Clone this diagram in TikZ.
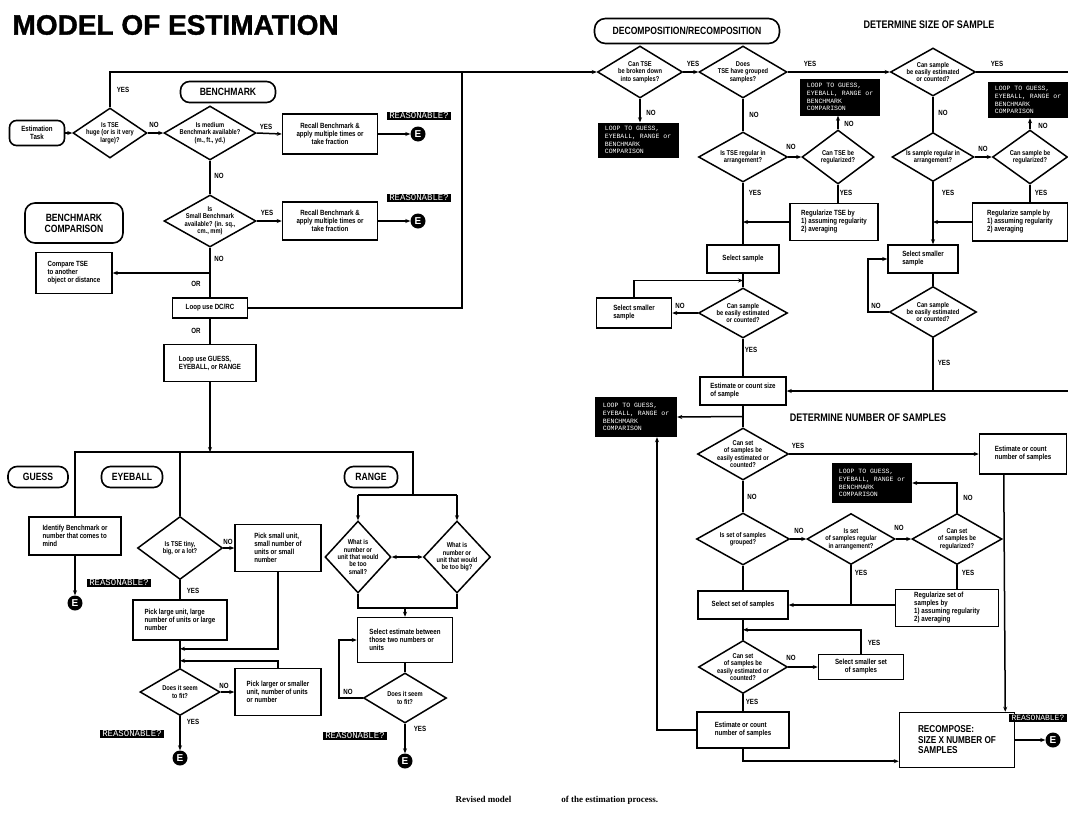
\documentclass[tikz,border=0pt]{standalone}
\usepackage{fontspec}
\setmainfont{Liberation Sans}
\newfontfamily\narrowfont[FakeStretch=0.82]{Liberation Sans}
\newfontfamily\titlefont[FakeBold=1.2]{Liberation Sans}
\newfontfamily\tapefont{Liberation Mono}
\newfontfamily\capfont{Liberation Serif}
\usepackage{graphicx}
\usepackage{tikz}
\usetikzlibrary{arrows.meta,positioning,shapes.geometric,calc}

\begin{document}
\begin{tikzpicture}[x=1pt,y=-1pt,>={Stealth[length=5pt,width=4pt]},
  flow/.style={line width=1.5pt},
  heavy/.style={line width=2.8pt},
  proc/.style={draw, line width=1.5pt, align=left, inner sep=2pt,
    font=\narrowfont\bfseries\fontsize{7.5}{8}\selectfont},
  dec/.style={diamond, draw, line width=1.5pt, align=center, aspect=1.5,
    inner xsep=-14pt, inner ysep=-6pt,
    font=\narrowfont\bfseries\fontsize{7}{7.4}\selectfont},
  term/.style={draw, line width=1.6pt, rounded corners=9pt, inner sep=2pt, align=center,
    font=\narrowfont\bfseries\fontsize{10.5}{11}\selectfont},
  tape/.style={fill=black, text=white, align=left, inner sep=2pt,
    font=\tapefont\fontsize{6.5}{7.8}\selectfont},
  okq/.style={fill=black, text=white, inner xsep=2.5pt, inner ysep=1pt,
    font=\tapefont\fontsize{9}{9}\selectfont},
  endE/.style={circle, fill=black, text=white, inner sep=0pt, minimum size=15pt,
    font=\bfseries\fontsize{10}{10}\selectfont},
  yn/.style={font=\narrowfont\bfseries\fontsize{7.5}{7.5}\selectfont},
  head/.style={font=\narrowfont\bfseries\fontsize{11}{11}\selectfont}]

  \useasboundingbox (0,0) rectangle (1068,814);

  % ── title ───────────────────────────────────────────────────────────
  \node[anchor=west, font=\titlefont\bfseries\fontsize{28}{30}\selectfont] (title) at (9,25) {MODEL OF ESTIMATION};

  % ── benchmark column ────────────────────────────────────────────────
  \node[term, rounded corners=7pt, minimum width=55, minimum height=25,
        font=\narrowfont\bfseries\fontsize{7.5}{8}\selectfont] (task) at (37,133) {Estimation\\Task};
  \node[dec, minimum width=74, minimum height=50] (huge) at (110,133) {Is TSE\\huge (or is it very\\large)?};
  \node[term, minimum width=95, minimum height=21] (bench) at (228,92) {BENCHMARK};
  \node[dec, minimum width=92, minimum height=54] (medium) at (210,133) {Is medium\\Benchmark available?\\(m., ft., yd.)};
  \node[proc, align=center, minimum width=95, minimum height=40] (recall1) at (330,134) {Recall Benchmark \&\\apply multiple times or\\take fraction};
  \node[okq] (ok1) at (419,116) {REASONABLE?};
  \node[endE] (e1) at (418,134) {E};

  \node[dec, minimum width=92, minimum height=52] (small) at (210,221) {Is\\Small Benchmark\\available? (in. sq.,\\cm., mm)};
  \node[proc, align=center, minimum width=95, minimum height=38] (recall2) at (330,221) {Recall Benchmark \&\\apply multiple times or\\take fraction};
  \node[okq] (ok2) at (419,198) {REASONABLE?};
  \node[endE] (e2) at (418,221) {E};

  \node[term, rounded corners=10pt, minimum width=98, minimum height=40] (bcomp) at (74,223) {BENCHMARK\\COMPARISON};
  \node[proc, minimum width=76, minimum height=41] (compare) at (74,273) {Compare TSE\\to another\\object or distance};
  \node[proc, align=center, minimum width=75, minimum height=20] (dcrc) at (210,308) {Loop use DC/RC};
  \node[proc, minimum width=92, minimum height=37] (gerloop) at (210,363) {Loop use GUESS,\\EYEBALL, or RANGE};

  \coordinate (jtop)   at (462,72);
  \coordinate (jbar)   at (210,452);
  \coordinate (jrange) at (413,495);
  \coordinate (jsel)   at (405,608);

  % ── guess / eyeball / range ─────────────────────────────────────────
  \node[term, minimum width=60, minimum height=21] (guess) at (38,477) {GUESS};
  \node[term, minimum width=61, minimum height=21] (eyeball) at (132,477) {EYEBALL};
  \node[term, minimum width=53, minimum height=21] (range) at (371,477) {RANGE};

  \node[proc, minimum width=92, minimum height=38] (identify) at (75,536) {Identify Benchmark or\\number that comes to\\mind};
  \node[okq] (ok3) at (119,583) {REASONABLE?};
  \node[endE] (e3) at (75,603) {E};

  \node[dec, minimum width=85, minimum height=63] (tiny) at (180,548) {Is TSE tiny,\\big, or a lot?};
  \node[proc, minimum width=86, minimum height=47] (picksmall) at (278,548) {Pick small unit,\\small number of\\units or small\\number};
  \node[proc, minimum width=94, minimum height=40] (picklarge) at (180,620) {Pick large unit, large\\number of units or large\\number};
  \node[dec, minimum width=80, minimum height=47] (fit1) at (180,692) {Does it seem\\to fit?};
  \node[proc, minimum width=86, minimum height=47] (pickother) at (278,692) {Pick larger or smaller\\unit, number of units\\or number};
  \node[okq] (ok4) at (132,734) {REASONABLE?};
  \node[endE] (e4) at (180,758) {E};

  \node[dec, minimum width=66, minimum height=72] (toosmall) at (358,557) {What is\\number or\\unit that would\\be too\\small?};
  \node[dec, minimum width=67, minimum height=72] (toobig) at (457,557) {What is\\number or\\unit that would\\be too big?};
  \node[proc, minimum width=95, minimum height=45] (between) at (405,640) {Select estimate between\\those two numbers or\\units};
  \node[dec, minimum width=83, minimum height=50] (fit2) at (405,698) {Does it seem\\to fit?};
  \node[okq] (ok5) at (355,736) {REASONABLE?};
  \node[endE] (e5) at (405,761) {E};

  % ── decomposition: size of sample ───────────────────────────────────
  \node[term, rounded corners=11pt, minimum width=185, minimum height=25] (decomp) at (687,31) {DECOMPOSITION/RECOMPOSITION};
  \node[head] (hsize) at (929,25) {DETERMINE SIZE OF SAMPLE};

  \node[dec, minimum width=85, minimum height=52] (broken) at (640,72) {Can TSE\\be broken down\\into samples?};
  \node[dec, minimum width=88, minimum height=52] (grouped) at (743,72) {Does\\TSE have grouped\\samples?};
  \node[dec, minimum width=85, minimum height=48] (easy1) at (933,72) {Can sample\\be easily estimated\\or counted?};
  \node[tape, minimum width=81, minimum height=35] (loop1) at (638,140) {LOOP TO GUESS,\\EYEBALL, RANGE or\\BENCHMARK\\COMPARISON};
  \node[tape, minimum width=80, minimum height=37] (loop2) at (840,97) {LOOP TO GUESS,\\EYEBALL, RANGE or\\BENCHMARK\\COMPARISON};
  \node[tape, minimum width=80, minimum height=36] (loop3) at (1028,100) {LOOP TO GUESS,\\EYEBALL, RANGE or\\BENCHMARK\\COMPARISON};

  \node[dec, minimum width=89, minimum height=50] (regular1) at (743,157) {Is TSE regular in\\arrangement?};
  \node[dec, minimum width=72, minimum height=54] (canreg1) at (838,157) {Can TSE be\\regularized?};
  \node[dec, minimum width=82, minimum height=49] (regular2) at (933,157) {Is sample regular in\\arrangement?};
  \node[dec, minimum width=75, minimum height=54] (canreg2) at (1030,157) {Can sample be\\regularized?};
  \node[proc, minimum width=88, minimum height=37] (regtse) at (834,222) {Regularize TSE by\\1) assuming regularity\\2) averaging};
  \node[proc, minimum width=95, minimum height=38] (regsample) at (1020,222) {Regularize sample by\\1) assuming regularity\\2) averaging};

  \node[proc, align=center, minimum width=72, minimum height=28] (selsample) at (743,259) {Select sample};
  \node[dec, minimum width=89, minimum height=50] (easy2) at (743,313) {Can sample\\be easily estimated\\or counted?};
  \node[proc, minimum width=75, minimum height=30] (smaller1) at (634,313) {Select smaller\\sample};
  \node[proc, minimum width=70, minimum height=28] (smaller2) at (923,259) {Select smaller\\sample};
  \node[dec, minimum width=87, minimum height=51] (easy3) at (933,312) {Can sample\\be easily estimated\\or counted?};
  \node[proc, minimum width=86, minimum height=28] (estsize) at (743,391) {Estimate or count size\\of sample};
  \node[tape, minimum width=82, minimum height=40] (loop4) at (636,417) {LOOP TO GUESS,\\EYEBALL, RANGE or\\BENCHMARK\\COMPARISON};

  % ── decomposition: number of samples ────────────────────────────────
  \node[head] (hnum) at (868,418) {DETERMINE NUMBER OF SAMPLES};
  \node[dec, minimum width=91, minimum height=52] (easyset1) at (743,454) {Can set\\of samples be\\easily estimated or\\counted?};
  \node[proc, minimum width=87, minimum height=40] (estnum1) at (1023,454) {Estimate or count\\number of samples};
  \node[tape, minimum width=80, minimum height=40] (loop5) at (872,483) {LOOP TO GUESS,\\EYEBALL, RANGE or\\BENCHMARK\\COMPARISON};
  \node[dec, minimum width=93, minimum height=52] (setgrouped) at (743,539) {Is set of samples\\grouped?};
  \node[dec, minimum width=88, minimum height=51] (setregular) at (851,539) {Is set\\of samples regular\\in arrangement?};
  \node[dec, minimum width=90, minimum height=51] (setcanreg) at (957,539) {Can set\\of samples be\\regularized?};
  \node[proc, align=center, minimum width=90, minimum height=28] (selset) at (743,605) {Select set of samples};
  \node[proc, minimum width=103, minimum height=37] (regset) at (947,608) {Regularize set of\\samples by\\1) assuming regularity\\2) averaging};
  \node[dec, minimum width=89, minimum height=53] (easyset2) at (743,667) {Can set\\of samples be\\easily estimated or\\counted?};
  \node[proc, align=center, minimum width=85, minimum height=25] (smallerset) at (861,667) {Select smaller set\\of samples};
  \node[proc, minimum width=92, minimum height=36] (estnum2) at (743,730) {Estimate or count\\number of samples};
  \node[proc, minimum width=115, minimum height=55, inner xsep=8pt,
        font=\narrowfont\bfseries\fontsize{10}{10.5}\selectfont] (recomp) at (957,740) {RECOMPOSE:\\SIZE X NUMBER OF\\SAMPLES};
  \node[okq, anchor=east, font=\tapefont\fontsize{8}{8}\selectfont] (ok6) at (1067,718) {REASONABLE?};
  \node[endE] (e6) at (1053,740) {E};

  % ── connectors, left half ───────────────────────────────────────────
  \draw[flow,->] (task.east) -- (huge.west);
  \draw[flow,->] (huge.north) |- (broken.west);
  \draw[flow] (dcrc.east) -| (jtop);
  \draw[flow,->] (huge.east) -- (medium.west);
  \draw[flow,->] (medium.east) -- (recall1.west);
  \draw[flow,->] (recall1.east) -- (e1.west);
  \draw[flow] (medium.south) -- (small.north);
  \draw[flow,->] (small.east) -- (recall2.west);
  \draw[flow,->] (recall2.east) -- (e2.west);
  \draw[flow] (small.south) -- (dcrc.north);
  \draw[flow,->] (small.south |- compare.east) -- (compare.east);
  \draw[flow] (dcrc.south) -- (gerloop.north);
  \draw[heavy,->] (gerloop.south) -- (jbar);

  \draw[flow] (identify.north) |- (jbar) -| (jrange);
  \draw[flow,->] (identify.south) -- (e3.north);
  \draw[flow] (tiny.north) -- (tiny.north |- jbar);
  \draw[flow,->] (tiny.east) -- (picksmall.west);
  \draw[flow] (tiny.south) -- (picklarge.north);
  \draw[flow] (picklarge.south) -- (fit1.north);
  \draw[flow,->] (picksmall.south) |- ($(picklarge.south)+(0,8)$);
  \draw[flow,->] (pickother.north) |- ($(picklarge.south)+(0,20)$);
  \draw[flow,->] (fit1.east) -- (pickother.west);
  \draw[flow,->] (fit1.south) -- (e4.north);

  \draw[flow] (jrange -| toosmall.north) -- (jrange -| toobig.north);
  \draw[flow,->] (jrange -| toosmall.north) -- (toosmall.north);
  \draw[flow,->] (jrange -| toobig.north) -- (toobig.north);
  \draw[flow,<->] (toosmall.east) -- (toobig.west);
  \draw[flow] (toosmall.south) |- (jsel) -| (toobig.south);
  \draw[flow,->] (jsel) -- (between.north);
  \draw[flow] (between.south) -- (fit2.north);
  \draw[flow,->] (fit2.west) -- ++(-24,0) |- (between.west);
  \draw[flow,->] (fit2.south) -- (e5.north);

  % ── connectors, right half ──────────────────────────────────────────
  \draw[flow,->] (broken.east) -- (grouped.west);
  \draw[flow,->] (broken.south) -- (broken.south |- loop1.north);
  \draw[flow,->] (grouped.east) -- (easy1.west);
  \draw[flow] (grouped.south) -- (regular1.north);
  \draw[flow,->] (regular1.east) -- (canreg1.west);
  \draw[flow,->] (canreg1.north) -- (canreg1.north |- loop2.south);
  \draw[flow] (canreg1.south) -- (canreg1.south |- regtse.north);
  \draw[flow,->] (regtse.west) -- (regtse.west -| regular1.south);
  \draw[flow] (regular1.south) -- (selsample.north);
  \draw[flow] (selsample.south) -- (easy2.north);
  \draw[flow,->] (smaller1.north) |- ($(selsample.south)!0.5!(easy2.north)$);
  \draw[flow,->] (easy2.west) -- (smaller1.east);
  \draw[flow] (easy2.south) -- (estsize.north);

  \draw[flow] (easy1.south) -- (regular2.north);
  \draw[flow,->] (regular2.east) -- (canreg2.west);
  \draw[flow,->] (canreg2.north) -- (canreg2.north |- loop3.south);
  \draw[flow] (canreg2.south) -- (canreg2.south |- regsample.north);
  \draw[flow,->] (regsample.west) -- (regsample.west -| regular2.south);
  \draw[flow,->] (regular2.south) -- (regular2.south |- smaller2.north);
  \draw[flow] (smaller2.south -| easy3.north) -- (easy3.north);
  \draw[flow,->] (easy3.west) -- ++(-21,0) |- (smaller2.west);
  \draw[flow] (easy3.south) -- (easy3.south |- estsize.east);
  \coordinate (farright) at (1080,72);
  \draw[flow,->] (easy1.east) -- (farright) |- (estsize.east);

  \draw[flow] (estsize.south) -- (easyset1.north);
  \draw[flow,->] ($(estsize.south)!0.5!(easyset1.north)$) -- (loop4.east);
  \draw[flow,->] (easyset1.east) -- (estnum1.west);
  \draw[flow] (easyset1.south) -- (setgrouped.north);
  \draw[flow,->] (setgrouped.east) -- (setregular.west);
  \draw[flow,->] (setregular.east) -- (setcanreg.west);
  \draw[flow,->] (setcanreg.north) |- (loop5.east);
  \draw[flow] (setcanreg.south) -- (setcanreg.south |- regset.north);
  \draw[flow] (setregular.south) -- (setregular.south |- selset.east);
  \draw[flow,->] (regset.west |- selset.east) -- (selset.east);
  \draw[flow] (setgrouped.south) -- (selset.north);
  \draw[flow] (selset.south) -- (easyset2.north);
  \draw[flow,->] (smallerset.north) |- ($(selset.south)!0.5!(easyset2.north)$);
  \draw[flow,->] (easyset2.east) -- (smallerset.west);
  \draw[flow] (easyset2.south) -- (estnum2.north);
  \draw[heavy,->] (estnum2.west) -| ([xshift=21pt]loop4.south);
  \draw[flow,->] (estnum2.south) |- (recomp.200);
  \draw[flow,->] ($(estnum1.south west)+(25,0)$) -- ($(recomp.north east)+(-10,0)$);
  \draw[flow,->] (recomp.east) -- (e6.west);

  % ── yes / no / or ───────────────────────────────────────────────────
  \foreach \x/\y/\t [count=\i] in {123/90/YES, 154/125/NO, 266/127/YES, 219/176/NO,
      267/213/YES, 219/259/NO, 196/284/OR, 196/331/OR, 228/542/NO, 193/591/YES,
      224/686/NO, 193/722/YES, 348/692/NO, 420/729/YES, 693/64/YES, 810/64/YES,
      651/113/NO, 754/115/NO, 791/147/NO, 849/124/NO, 846/193/YES, 755/193/YES,
      997/64/YES, 943/113/NO, 983/149/NO, 1043/126/NO, 948/193/YES, 1041/193/YES,
      680/306/NO, 751/350/YES, 876/306/NO, 944/363/YES, 798/446/YES, 752/497/NO,
      799/531/NO, 899/528/NO, 968/498/NO, 861/573/YES, 968/573/YES, 874/643/YES,
      791/658/NO, 752/702/YES}
    \node[yn] (yn\i) at (\x,\y) {\t};

  % ── caption ─────────────────────────────────────────────────────────
  \node[anchor=west, font=\capfont\bfseries\fontsize{9}{9}\selectfont] (caption) at (452,800)
       {Revised model\hspace{50pt}of the estimation process.};

\end{tikzpicture}
\end{document}
